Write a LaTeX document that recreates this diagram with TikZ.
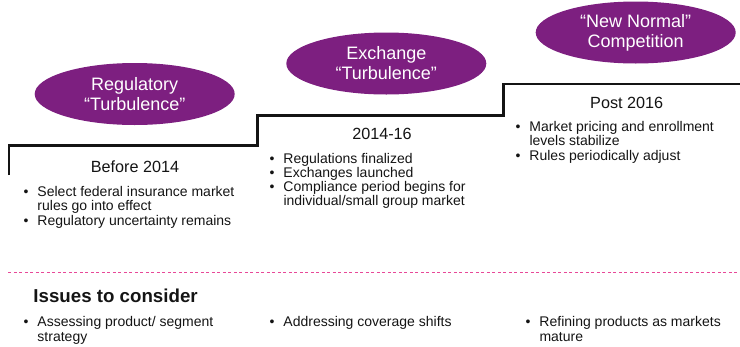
\documentclass[tikz,border=0pt]{standalone}
\usepackage{fontspec}
\setmainfont{Liberation Sans}
\usetikzlibrary{shapes.geometric}
\definecolor{ellpurple}{RGB}{125,31,128}
\definecolor{dashpink}{RGB}{232,72,152}
\definecolor{txt}{RGB}{20,20,20}
\newcommand\bul{\llap{•\hspace{9pt}}}
\newcommand\blist[1]{\vtop{\baselineskip=14.2pt\lineskiplimit=-100pt\lineskip=0pt #1}}
\tikzset{
  ell/.style={ellipse, fill=ellpurple, draw=none, text=white, align=center,
    minimum width=200pt, minimum height=62pt, inner sep=0pt,
    font=\fontsize{18}{20}\selectfont},
  stairline/.style={line width=2.6pt, draw=txt, line join=miter},
  pinkdash/.style={draw=dashpink, line width=1.2pt, dash pattern=on 3pt off 2.5pt},
  period/.style={anchor=base, inner sep=0pt, text=txt, font=\fontsize{16.2}{18}\selectfont},
  bullets/.style={anchor=base west, inner sep=0pt, text=txt, font=\fontsize{14}{14.2}\selectfont},
  heading/.style={anchor=base west, inner sep=0pt, text=txt, font=\fontsize{18.7}{20}\selectfont\bfseries}
}
\begin{document}
\begin{tikzpicture}[x=1pt,y=-1pt]
\useasboundingbox (0,0) rectangle (740,346);
% staircase
\coordinate (s0) at (9,175);
\coordinate (s1) at (9,145.5);
\coordinate (s2) at (257.3,145.5);
\coordinate (s3) at (257.3,115.7);
\coordinate (s4) at (503.3,115.7);
\coordinate (s5) at (503.3,83.8);
\coordinate (s6) at (741,83.8);
\draw[stairline] (s0) -- (s1) -- (s2) -- (s3) -- (s4) -- (s5) -- (s6);
% ellipses
\node[ell] (e1) at (134.7,94) {Regulatory\\“Turbulence”};
\node[ell] (e2) at (386.3,63.5) {Exchange\\“Turbulence”};
\node[ell] (e3) at (635.7,32.5) {“New Normal”\\Competition};
% period labels
\node[period] (p1) at (135,172.3) {Before 2014};
\node[period] (p2) at (382,139.3) {2014-16};
\node[period] (p3) at (626.7,108.3) {Post 2016};
% bullets top
\node[bullets] (b1) at (37.3,196.6) {\blist{\hbox{\bul Select federal insurance market}\hbox{rules go into effect}\hbox{\bul Regulatory uncertainty remains}}};
\node[bullets] (b2) at (283.3,163.3) {\blist{\hbox{\bul Regulations finalized}\hbox{\bul Exchanges launched}\hbox{\bul Compliance period begins for}\hbox{individual/small group market}}};
\node[bullets] (b3) at (529.3,131.7) {\blist{\hbox{\bul Market pricing and enrollment}\hbox{levels stabilize}\hbox{\bul Rules periodically adjust}}};
% dashed separator
\coordinate (d0) at (8.3,272.3);
\coordinate (d1) at (740,272.3);
\draw[pinkdash] (d0) -- (d1);
% issues
\node[heading] (h) at (33.3,302) {Issues to consider};
\node[bullets] (i1) at (37.3,326.8) {\blist{\hbox{\bul Assessing product/ segment}\hbox{strategy}}};
\node[bullets] (i2) at (283.3,326.8) {\blist{\hbox{\bul Addressing coverage shifts}}};
\node[bullets] (i3) at (539.3,326.8) {\blist{\hbox{\bul Refining products as markets}\hbox{mature}}};
\end{tikzpicture}
\end{document}
